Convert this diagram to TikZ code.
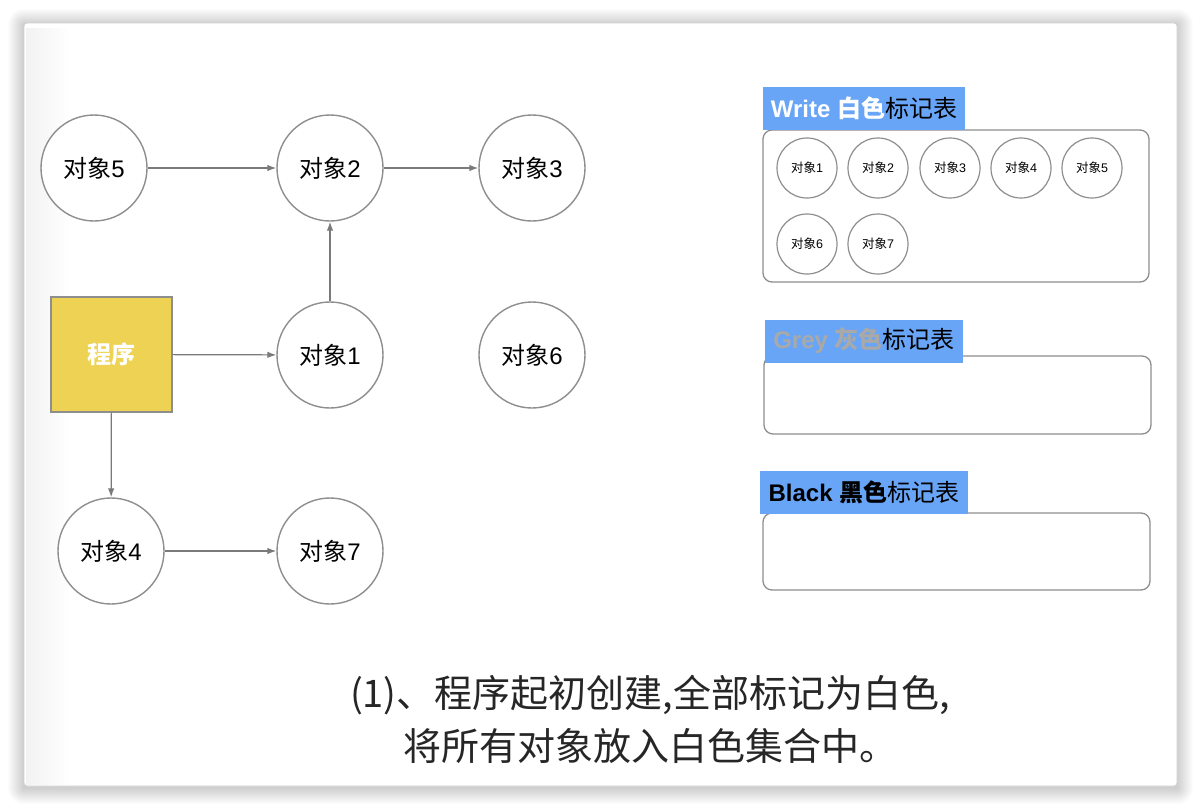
\documentclass[tikz,border=0pt]{standalone}
\usepackage{fontspec}
\setmainfont{Liberation Sans}
\newfontfamily\cjk{Noto Sans CJK SC}
\usetikzlibrary{arrows.meta}

\definecolor{ringgray}{HTML}{8E8E8E}
\definecolor{arrowgray}{HTML}{7A7A7A}
\definecolor{progyellow}{HTML}{EDD253}
\definecolor{headblue}{HTML}{68A5F6}
\definecolor{greytext}{HTML}{A9A9A9}

\newcommand\obj[1]{{\cjk 对象}#1}

\tikzset{
  objnode/.style={circle, draw=ringgray, line width=1.4pt, fill=white, minimum size=106pt, inner sep=0pt, font=\fontsize{24}{24}\selectfont},
  smallobj/.style={circle, draw=ringgray, line width=1.2pt, fill=white, minimum size=60pt, inner sep=0pt, font=\fontsize{12.5}{12.5}\selectfont},
  link/.style={draw=arrowgray, line width=1.2pt, -{Latex[length=9pt,width=6.5pt]}},
  markbox/.style={draw=ringgray, line width=1.3pt, rounded corners=9pt},
  tablehead/.style={fill=headblue, inner sep=0pt, minimum height=43pt, font=\fontsize{24}{24}\selectfont},
}

\begin{document}
\begin{tikzpicture}[x=1pt,y=-1pt]
\useasboundingbox (0,0) rectangle (1200,809);
% page, soft shadow and card
\fill[white] (0,0) rectangle (1200,809);
\foreach \d in {1,...,16}
  \fill[black, opacity=0.011, rounded corners=\d pt] (24-\d,25-\d) rectangle (1177+\d,788+\d);
\fill[white, draw=black!18, line width=0.8pt, rounded corners=3pt] (24,23) rectangle (1177,786);
\shade[left color=black!5, right color=white] (26,28) rectangle (70,784);
% program
\node[draw=ringgray, line width=1.2pt, fill=progyellow, minimum width=121pt, minimum height=115pt, text=white, font=\cjk\bfseries\fontsize{24}{24}\selectfont] (prog) at (111.5,354.5) {程序};
% objects
\node[objnode] (o5) at (94,168) {\obj{5}};
\node[objnode] (o2) at (330,168) {\obj{2}};
\node[objnode] (o3) at (532,168) {\obj{3}};
\node[objnode] (o1) at (330,355) {\obj{1}};
\node[objnode] (o6) at (532,355) {\obj{6}};
\node[objnode] (o4) at (111,551) {\obj{4}};
\node[objnode] (o7) at (330,551) {\obj{7}};
% references
\draw[link] (o5) -- (o2);
\draw[link] (o2) -- (o3);
\draw[link] (o1) -- (o2);
\draw[link] (prog) -- (o1);
\draw[link] (prog) -- (o4);
\draw[link] (o4) -- (o7);
% white table
\draw[markbox] (763,130) rectangle (1149,282);
\node[tablehead, minimum width=202pt] (whitehead) at (864,108.5) {\textcolor{white}{\bfseries Write {\cjk 白色}}{\cjk 标记表}};
\node[smallobj] (w1) at (807,168) {\obj{1}};
\node[smallobj] (w2) at (878,168) {\obj{2}};
\node[smallobj] (w3) at (950,168) {\obj{3}};
\node[smallobj] (w4) at (1021,168) {\obj{4}};
\node[smallobj] (w5) at (1092,168) {\obj{5}};
\node[smallobj] (w6) at (807,244) {\obj{6}};
\node[smallobj] (w7) at (878,244) {\obj{7}};
% grey table
\draw[markbox] (764,356) rectangle (1151,434);
\node[tablehead, minimum width=198pt] (greyhead) at (864,341) {\textcolor{greytext}{\bfseries Grey {\cjk 灰色}}{\cjk 标记表}};
% black table
\draw[markbox] (763,513) rectangle (1150,590);
\node[tablehead, minimum width=208pt] (blackhead) at (864,492.5) {{\bfseries Black {\cjk 黑色}}{\cjk 标记表}};
% caption
\node[align=center, text=black!85, font=\cjk\fontsize{38}{53}\selectfont] (caption) at (650,719) {(1)、程序起初创建,全部标记为白色,\\将所有对象放入白色集合中。};
\end{tikzpicture}
\end{document}
